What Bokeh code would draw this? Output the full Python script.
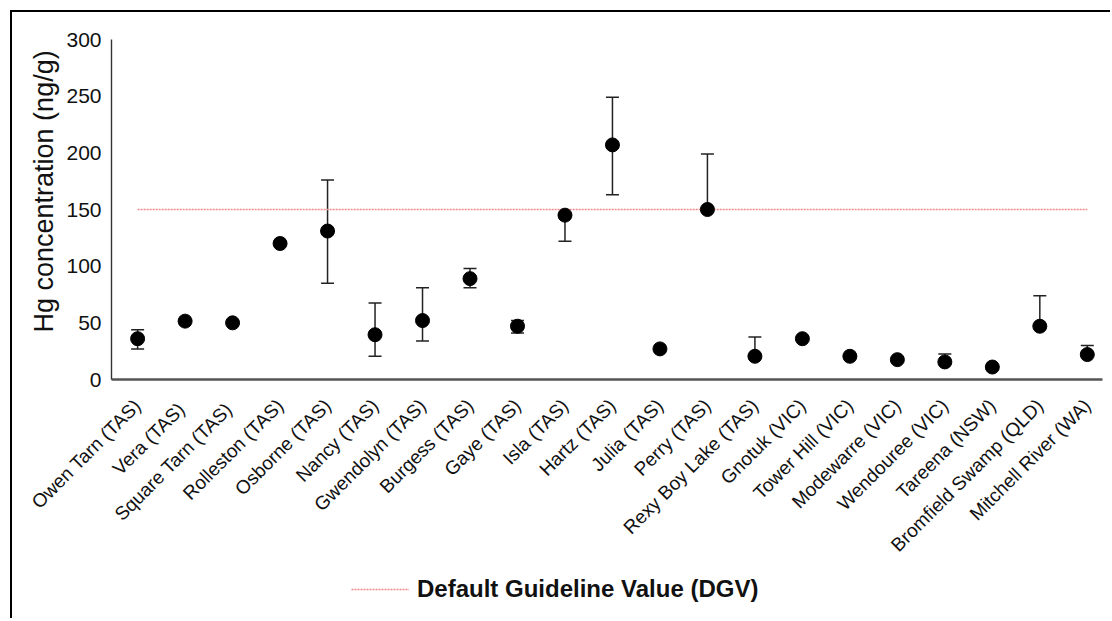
import math
from bokeh.plotting import figure
from bokeh.layouts import column
from bokeh.models import (ColumnDataSource, Whisker, TeeHead, FixedTicker, Legend,
                          LegendItem, Title, Range1d)
from bokeh.embed import file_html
from bokeh.resources import INLINE

sites = ["Owen Tarn (TAS)", "Vera  (TAS)", "Square Tarn  (TAS)", "Rolleston (TAS)",
         "Osborne (TAS)", "Nancy (TAS)", "Gwendolyn (TAS)", "Burgess (TAS)",
         "Gaye (TAS)", "Isla (TAS)", "Hartz (TAS)", "Julia (TAS)", "Perry (TAS)",
         "Rexy Boy Lake (TAS)", "Gnotuk (VIC)", "Tower Hill (VIC)", "Modewarre (VIC)",
         "Wendouree (VIC)", "Tareena (NSW)", "Bromfield Swamp (QLD)", "Mitchell River (WA)"]
hg_mean = [36, 51.5, 50, 120, 131, 39.5, 52, 89, 47, 145, 207, 27, 150, 20.5,
           36, 20.5, 17.5, 15.5, 11, 47, 22]
err_up = [8, 0, 0, 0, 45, 28, 29, 9, 5, 0, 42, 0, 49, 17, 0, 0, 0, 7, 0, 27, 8]
err_down = [9, 0, 0, 0, 46, 19, 18, 8, 6, 23, 44, 0, 2, 0, 0, 0, 2, 2, 2, 0, 0]
dgv_value = 150
y_ticks = [0, 50, 100, 150, 200, 250, 300]

FONT = "Liberation Sans"
xs = list(range(len(sites)))

p = figure(width=1098, height=553, output_backend="svg", toolbar_location=None,
           x_range=Range1d(-0.55, 20.32), y_range=Range1d(0, 300),
           min_border_left=99, min_border_top=27, min_border_right=8,
           min_border_bottom=185)
p.outline_line_color = None
p.grid.grid_line_color = None
p.background_fill_color = "white"
p.border_fill_color = "white"

dgv_style = dict(line_color="#f08a8a", line_width=1.6, line_dash="2 1")
p.line([xs[0], xs[-1]], [dgv_value, dgv_value], **dgv_style)

# error bars
up_src = ColumnDataSource(dict(
    x=[x for x, e in zip(xs, err_up) if e > 0],
    lo=[m for m, e in zip(hg_mean, err_up) if e > 0],
    hi=[m + e for m, e in zip(hg_mean, err_up) if e > 0]))
dn_src = ColumnDataSource(dict(
    x=[x for x, e in zip(xs, err_down) if e > 0],
    lo=[m - e for m, e in zip(hg_mean, err_down) if e > 0],
    hi=[m for m, e in zip(hg_mean, err_down) if e > 0]))
ecol = "#222222"
p.add_layout(Whisker(source=up_src, base="x", lower="lo", upper="hi",
                     line_color=ecol, line_width=1.5,
                     upper_head=TeeHead(size=13, line_color=ecol, line_width=1.5),
                     lower_head=None))
p.add_layout(Whisker(source=dn_src, base="x", lower="lo", upper="hi",
                     line_color=ecol, line_width=1.5,
                     lower_head=TeeHead(size=13, line_color=ecol, line_width=1.5),
                     upper_head=None))

p.scatter(xs, hg_mean, size=14, color="black")

# axes
xa = p.xaxis[0]
xa.ticker = FixedTicker(ticks=xs)
xa.major_label_overrides = {i: s for i, s in enumerate(sites)}
xa.major_label_orientation = math.pi / 4
xa.major_label_text_font = FONT
xa.major_label_text_font_size = "19px"
xa.major_label_text_color = "#111111"
xa.major_tick_line_color = None
xa.minor_tick_line_color = None
xa.axis_line_color = "#555555"
xa.axis_line_width = 2.5
xa.major_label_standoff = 17

ya = p.yaxis[0]
ya.ticker = FixedTicker(ticks=y_ticks)
ya.major_label_text_font = FONT
ya.major_label_text_font_size = "21px"
ya.major_label_text_color = "#111111"
ya.major_tick_line_color = None
ya.minor_tick_line_color = None
ya.axis_line_color = "#333333"
ya.axis_line_width = 1.4
ya.major_label_standoff = 4

p.add_layout(Title(text="Hg concentration (ng/g)", align="left", offset=47,
                   text_font=FONT, text_font_size="27px", text_font_style="normal",
                   text_color="#111111", standoff=10), "left")

# legend strip below the chart
leg = figure(width=1098, height=53, output_backend="svg", toolbar_location=None,
             x_range=Range1d(0, 1), y_range=Range1d(0, 1),
             x_axis_type=None, y_axis_type=None, min_border=0)
leg.outline_line_color = None
leg.grid.grid_line_color = None
leg_line = leg.line([xs[0], xs[-1]], [dgv_value, dgv_value], **dgv_style)
legend = Legend(items=[LegendItem(label="Default Guideline Value (DGV)", renderers=[leg_line])],
                location=(240, 14), orientation="horizontal",
                glyph_width=58, glyph_height=30, label_height=30, label_standoff=8,
                padding=0, margin=0, border_line_color=None, background_fill_alpha=0,
                label_text_font=FONT, label_text_font_size="24px",
                label_text_font_style="bold", label_text_color="#111111")
leg.add_layout(legend, "center")

page = column(p, leg, spacing=0,
              styles={"margin-left": "10px", "margin-top": "10px",
                      "border-left": "2px solid black", "border-top": "2px solid black"})

open("out.html", "w").write(file_html(page, INLINE))
